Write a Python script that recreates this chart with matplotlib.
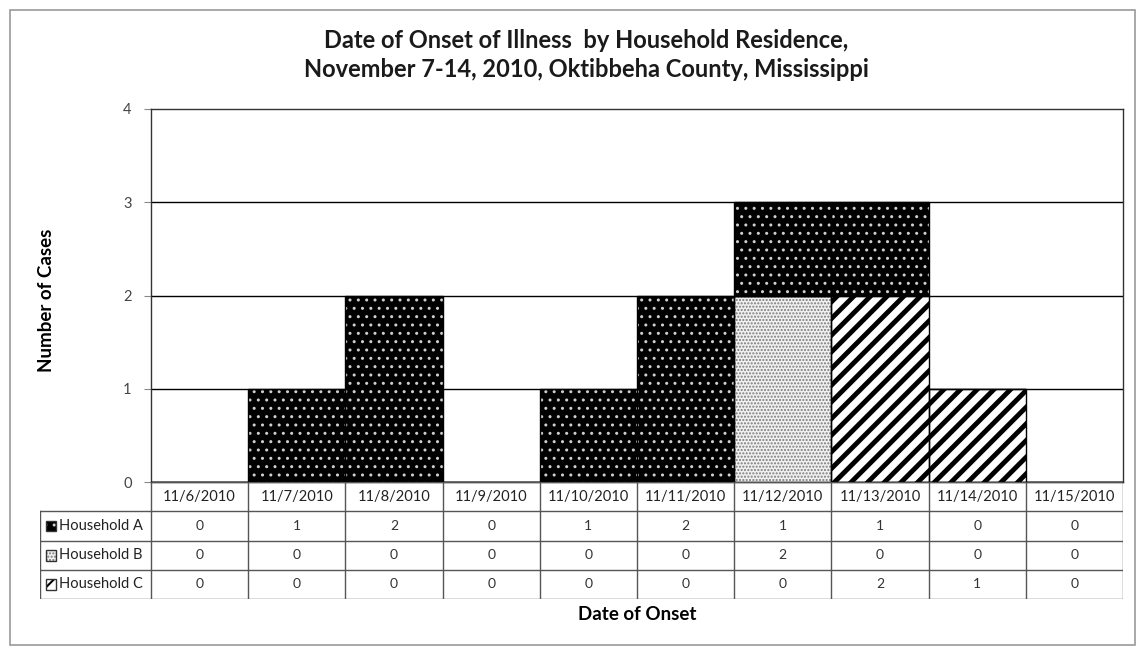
import matplotlib.pyplot as plt
from matplotlib.patches import Rectangle
import numpy as np

plt.rcParams['font.family'] = ['Lato', 'DejaVu Sans']
plt.rcParams['hatch.linewidth'] = 1.0

# data
dates = ['11/6/2010', '11/7/2010', '11/8/2010', '11/9/2010', '11/10/2010',
         '11/11/2010', '11/12/2010', '11/13/2010', '11/14/2010', '11/15/2010']
household_a = [0, 1, 2, 0, 1, 2, 1, 1, 0, 0]
household_b = [0, 0, 0, 0, 0, 0, 2, 0, 0, 0]
household_c = [0, 0, 0, 0, 0, 0, 0, 2, 1, 0]
series_names = ['Household A', 'Household B', 'Household C']

W, H = 1137, 648
fig = plt.figure(figsize=(W / 100, H / 100), dpi=100)

def box(l, t, r, b):
    return [l / W, 1 - b / H, (r - l) / W, (b - t) / H]

# outer frame
fig.patches.append(Rectangle((10 / W, 1 - 645 / H), 1125 / W, 635 / H,
                             transform=fig.transFigure, fill=False,
                             edgecolor='#9a9a9a', lw=1.2))

# styles: (face, hatch colour, hatch, hatch lw)
styles = {
    'Household A': ('black', '#cfcfcf', '..', 1.0),
    'Household B': ('#f0f0f0', '#7a7a7a', '.....', 1.0),
    'Household C': ('white', 'black', '//', 3.5),
}

ax = fig.add_axes(box(151, 109, 1123, 482))
x = np.arange(len(dates))
a = np.array(household_a)
b = np.array(household_b)
c = np.array(household_c)

def draw_bars(axis, xs, heights, bottoms, name, width=1.0):
    face, hcol, hatch, hlw = styles[name]
    plt.rcParams['hatch.linewidth'] = hlw
    axis.bar(xs, heights, width=width, bottom=bottoms, color=face,
             edgecolor=hcol, hatch=hatch, linewidth=0, zorder=2)
    axis.bar(xs, heights, width=width, bottom=bottoms, color='none',
             edgecolor='black', linewidth=1, zorder=3)

draw_bars(ax, x, b, 0, 'Household B')
draw_bars(ax, x, c, b, 'Household C')
draw_bars(ax, x, a, b + c, 'Household A')

ax.set_xlim(-0.5, len(dates) - 0.5)
ax.set_ylim(0, 4)
ax.set_yticks([0, 1, 2, 3, 4])
ax.set_xticks([])
for yv in [1, 2, 3]:
    ax.axhline(yv, color='black', lw=1, zorder=1)
for s in ax.spines.values():
    s.set_color('#333333')
    s.set_linewidth(1)
ax.tick_params(axis='y', length=5, color='#888888', labelcolor='#444444',
               labelsize=10.5, pad=9)
fig.text(46 / W, 1 - 300 / H, 'Number of Cases', rotation=90, ha='center',
         va='center', fontsize=13.5, fontweight='bold')

# data table under the plot
pos = ax.get_position()
unit = pos.width * W / len(dates)
x0 = -0.5 - (151 - 40) / unit
tx = fig.add_axes(box(40, 482, 1123, 599))
tx.set_xlim(x0, len(dates) - 0.5)
tx.set_ylim(4, 0)
tx.axis('off')
lc = '#555555'
edges = np.arange(len(dates) + 1) - 0.5
for e in edges:
    tx.plot([e, e], [0, 4], color=lc, lw=1)
tx.plot([x0, x0], [1, 4], color=lc, lw=1)
tx.plot([-0.5, len(dates) - 0.5], [0, 0], color=lc, lw=1)
for r in [1, 2, 3, 4]:
    tx.plot([x0, len(dates) - 0.5], [r, r], color=lc, lw=1)
for i, d in enumerate(dates):
    tx.text(i, 0.5, d, ha='center', va='center', fontsize=10.5, color='#222222')
rows = [household_a, household_b, household_c]
for r, (name, vals) in enumerate(zip(series_names, rows)):
    for i, v in enumerate(vals):
        tx.text(i, r + 1.5, str(v), ha='center', va='center', fontsize=10,
                color='#333333')
    face, hcol, hatch, hlw = styles[name]
    plt.rcParams['hatch.linewidth'] = min(hlw, 1.5)
    tx.add_patch(Rectangle((x0 + 6 / unit, r + 1.33), 10 / unit, 0.36,
                           facecolor=face, edgecolor=hcol, hatch=hatch, lw=0))
    tx.add_patch(Rectangle((x0 + 6 / unit, r + 1.33), 10 / unit, 0.36,
                           facecolor='none', edgecolor='#333333', lw=1))
    tx.text(x0 + 19 / unit, r + 1.5, name, ha='left', va='center',
            fontsize=10.5, color='#222222')

fig.text(637 / W, 1 - 615 / H, 'Date of Onset', ha='center', va='center',
         fontsize=13.5, fontweight='bold')
fig.text(586 / W, 1 - 55 / H,
         'Date of Onset of Illness  by Household Residence,\n'
         'November 7-14, 2010, Oktibbeha County, Mississippi',
         ha='center', va='center', fontsize=17, fontweight='bold',
         linespacing=1.3, color='#1a1a1a')

plt.savefig('out.png', dpi=100)
